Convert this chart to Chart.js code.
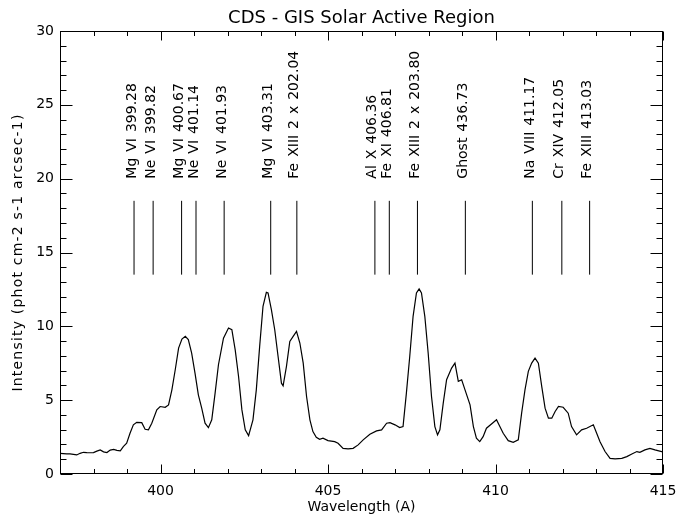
<!DOCTYPE html>
<html><head><meta charset="utf-8">
<script src="https://cdn.jsdelivr.net/npm/chart.js@4.4.1/dist/chart.umd.min.js"></script>
<style>html,body{margin:0;padding:0;background:#fff;}#wrap{width:694px;height:518px;}</style>
</head><body><div id="wrap"><canvas id="c" width="694" height="518"></canvas></div>
<script>
const chartTitle = 'CDS - GIS Solar Active Region';
const xTitle = 'Wavelength (A)';
const yTitle = 'Intensity (phot cm-2 s-1 arcsec-1)';

const wavelength = [
397.00,397.10,397.20,397.30,397.40,397.50,397.60,397.70,397.80,397.90,
398.00,398.10,398.20,398.30,398.40,398.50,398.60,398.70,398.80,398.89,
398.99,399.09,399.19,399.29,399.44,399.54,399.64,399.74,399.89,399.99,
400.14,400.24,400.34,400.44,400.54,400.64,400.74,400.83,400.93,401.03,
401.13,401.23,401.33,401.43,401.53,401.63,401.73,401.88,402.03,402.13,
402.23,402.33,402.43,402.53,402.63,402.76,402.86,402.96,403.06,403.16,
403.21,403.31,403.41,403.51,403.61,403.66,403.76,403.86,403.96,404.06,
404.16,404.26,404.36,404.46,404.55,404.65,404.75,404.85,405.00,405.20,
405.30,405.45,405.60,405.75,405.90,406.05,406.25,406.45,406.60,406.75,
406.85,407.00,407.14,407.24,407.34,407.44,407.54,407.64,407.72,407.79,
407.89,407.99,408.09,408.19,408.27,408.34,408.44,408.54,408.69,408.79,
408.89,408.99,409.09,409.24,409.34,409.43,409.53,409.63,409.73,409.88,
410.03,410.13,410.23,410.38,410.53,410.68,410.78,410.88,410.98,411.08,
411.18,411.28,411.38,411.48,411.58,411.68,411.78,411.88,412.02,412.17,
412.27,412.42,412.57,412.72,412.92,413.02,413.12,413.27,413.42,413.57,
413.77,413.92,414.07,414.22,414.31,414.46,414.61,414.76,414.96,415.00
];
const intensity = [
1.40,1.38,1.36,1.36,1.33,1.29,1.40,1.47,1.45,1.44,
1.45,1.55,1.63,1.50,1.45,1.62,1.67,1.60,1.57,1.86,
2.08,2.76,3.33,3.50,3.48,3.03,2.99,3.44,4.34,4.57,
4.52,4.68,5.70,7.06,8.53,9.14,9.32,9.10,8.19,6.83,
5.36,4.46,3.44,3.14,3.67,5.48,7.40,9.20,9.89,9.77,
8.40,6.60,4.34,2.99,2.60,3.67,5.70,8.64,11.36,12.30,
12.26,11.13,9.77,7.96,6.15,5.97,7.29,8.98,9.32,9.66,
8.87,7.51,5.25,3.67,2.87,2.49,2.35,2.42,2.26,2.19,
2.08,1.74,1.70,1.74,1.97,2.31,2.69,2.92,2.99,3.44,
3.48,3.33,3.14,3.21,5.48,7.96,10.68,12.26,12.53,12.26,
10.68,8.19,5.25,3.21,2.65,2.99,4.80,6.38,7.17,7.51,
6.27,6.38,5.70,4.68,3.21,2.42,2.19,2.53,3.10,3.39,
3.67,3.21,2.76,2.26,2.15,2.31,4.12,5.70,6.95,7.51,
7.85,7.51,5.93,4.46,3.78,3.78,4.23,4.57,4.52,4.12,
3.21,2.65,2.99,3.10,3.33,2.76,2.19,1.52,1.06,1.02,
1.06,1.18,1.36,1.52,1.47,1.63,1.74,1.63,1.52,1.50
];

const lineWavelengths = [399.21,399.78,400.63,401.06,401.90,403.29,404.07,406.40,406.83,407.67,409.10,411.10,411.98,412.81];
const lineLabels = ['Mg VI 399.28','Ne VI 399.82','Mg VI 400.67','Ne VI 401.14','Ne VI 401.93','Mg VI 403.31','Fe XIII 2 x 202.04','Al X 406.36','Fe XI 406.81','Fe XIII 2 x 203.80','Ghost 436.73','Na VIII 411.17','Cr XIV 412.05','Fe XIII 413.03'];
const markerRange = [13.5, 18.5];
const labelStart = 20;

const xTickLabels = [400,405,410,415];
const yTickLabels = [0,5,10,15,20,25,30];
const xRange = [397,415];
const yRange = [0,30];

const FONT = 'DejaVu Sans';

const datasets = [{
  data: wavelength.map((w,i)=>({x:w,y:intensity[i]})),
  borderColor:'#000', borderWidth:1.2, pointRadius:0, fill:false
}];
lineWavelengths.forEach(w=>datasets.push({
  data:[{x:w,y:markerRange[0]},{x:w,y:markerRange[1]}],
  borderColor:'#000', borderWidth:1, pointRadius:0, fill:false
}));

const framePlugin = {
  id:'frame',
  beforeDraw(chart){
    const ctx=chart.ctx; ctx.save(); ctx.fillStyle='#fff'; ctx.fillRect(0,0,chart.width,chart.height); ctx.restore();
  },
  afterDatasetsDraw(chart){
    const {ctx, chartArea:a, scales:{x,y}} = chart;
    ctx.save();
    ctx.strokeStyle='#000'; ctx.lineWidth=1;
    const L=Math.round(a.left)+0.5, R=Math.round(a.right)-0.5, T=Math.round(a.top)+0.5, B=Math.round(a.bottom)-0.5;
    ctx.strokeRect(L,T,R-L,B-T);
    ctx.beginPath();
    for(let v=Math.ceil(x.min); v<=x.max; v++){
      const p=Math.round(x.getPixelForValue(v))+0.5;
      const len = v%5===0 ? 9 : 4.5;
      ctx.moveTo(p,B); ctx.lineTo(p,B-len);
      ctx.moveTo(p,T); ctx.lineTo(p,T+len);
    }
    for(let v=Math.ceil(y.min); v<=y.max; v++){
      const p=Math.round(y.getPixelForValue(v))+0.5;
      const len = v%5===0 ? 12 : 6;
      ctx.moveTo(L,p); ctx.lineTo(L+len,p);
      ctx.moveTo(R,p); ctx.lineTo(R-len,p);
    }
    ctx.stroke();
    ctx.fillStyle='#000';
    // main title
    ctx.font='18px "'+FONT+'"';
    ctx.textAlign='center'; ctx.textBaseline='middle';
    ctx.fillText(chartTitle,(a.left+a.right)/2,18.5);
    // y-axis title
    ctx.save();
    ctx.font='14px "'+FONT+'"';
    ctx.letterSpacing='1.2px';
    ctx.translate(18.5,(a.top+a.bottom)/2);
    ctx.rotate(-Math.PI/2);
    ctx.fillText(yTitle,0,0);
    ctx.restore();
    // line labels
    ctx.save();
    ctx.font='14px "'+FONT+'"';
    ctx.wordSpacing='1.5px';
    ctx.textAlign='left'; ctx.textBaseline='alphabetic';
    lineLabels.forEach((t,i)=>{
      const px = x.getPixelForValue(lineWavelengths[i]) + 1.5;
      const py = y.getPixelForValue(labelStart);
      ctx.save(); ctx.translate(px,py); ctx.rotate(-Math.PI/2); ctx.fillText(t,0,0); ctx.restore();
    });
    ctx.restore();
    ctx.restore();
  }
};

new Chart(document.getElementById('c'), {
  type:'line',
  data:{datasets},
  plugins:[framePlugin],
  options:{
    responsive:false, animation:false, devicePixelRatio:1,
    layout:{padding:{top:31,right:31,left:0,bottom:0}},
    plugins:{legend:{display:false}, tooltip:{enabled:false}, title:{display:false}},
    elements:{line:{tension:0}},
    scales:{
      x:{type:'linear', min:xRange[0], max:xRange[1],
        afterBuildTicks:(s)=>{s.ticks=xTickLabels.map(v=>({value:v}));},
        afterFit:(s)=>{s.height=44;},
        grid:{display:false, drawTicks:false}, border:{display:false},
        ticks:{color:'#000', font:{family:FONT,size:14}, padding:9, maxRotation:0, autoSkip:false},
        title:{display:true, text:xTitle, color:'#000', font:{family:FONT,size:14}, padding:{top:0,bottom:2}}
      },
      y:{type:'linear', min:yRange[0], max:yRange[1],
        afterBuildTicks:(s)=>{s.ticks=yTickLabels.map(v=>({value:v}));},
        afterFit:(s)=>{s.width=60;},
        grid:{display:false, drawTicks:false}, border:{display:false},
        ticks:{color:'#000', font:{family:FONT,size:14}, padding:6, autoSkip:false},
        title:{display:false}
      }
    }
  }
});
</script></body></html>
